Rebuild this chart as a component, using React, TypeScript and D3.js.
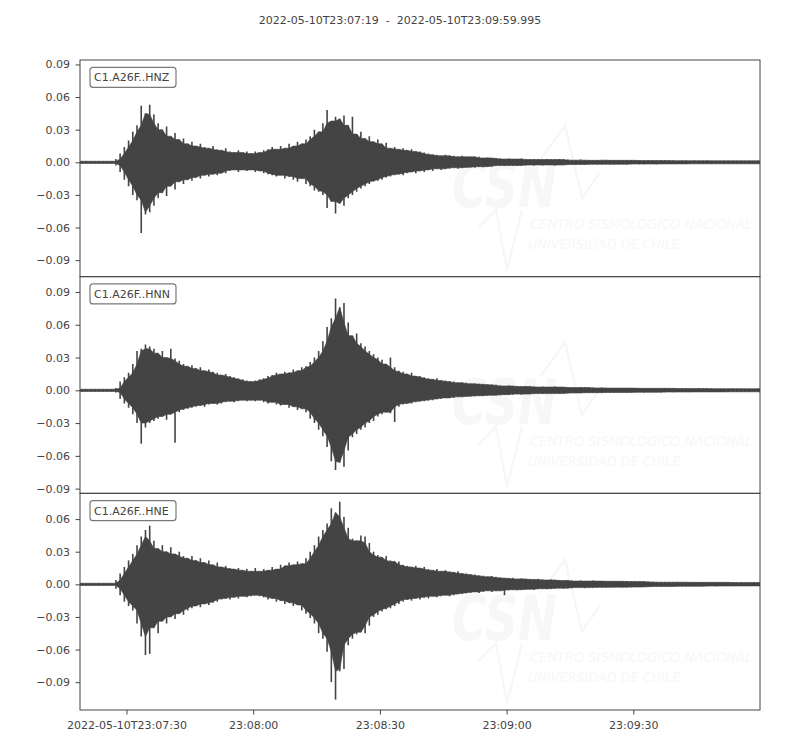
import { useEffect, useRef } from 'react'
import * as d3 from 'd3'

const START = '2022-05-10T23:07:19'
const END = '2022-05-10T23:09:59.995'
const CHANNELS = ['C1.A26F..HNZ', 'C1.A26F..HNN', 'C1.A26F..HNE']
const X_TICKS = ['2022-05-10T23:07:30', '2022-05-10T23:08:00', '2022-05-10T23:08:30', '2022-05-10T23:09:00', '2022-05-10T23:09:30']
const Y_TICKS = [-0.09, -0.06, -0.03, 0, 0.03, 0.06, 0.09]
// axis limits of each trace (equal scale, centred on the trace mean)
const Y_LIMITS = [[-0.1052, 0.0941], [-0.0943, 0.104], [-0.1156, 0.0837]]

// envelope of each trace, one max/min pair per second from 23:07:19, in units of 1e-3
const HNZ_MAX = [
  1, 1, 1, 1, 1, 1, 1, 1, 3, 8,
  14, 20, 28, 34, 52, 45, 53, 44, 36, 30,
  33, 24, 27, 21, 22, 17, 19, 15, 17, 14,
  13, 15, 12, 11, 13, 10, 9, 11, 9, 10,
  8, 10, 9, 11, 12, 14, 12, 15, 13, 17,
  15, 19, 17, 21, 24, 30, 28, 36, 48, 38,
  42, 40, 43, 34, 42, 26, 28, 22, 24, 19,
  21, 17, 18, 13, 14, 12, 13, 11, 12, 10,
  10, 9, 8, 7, 7, 6, 7, 6, 6, 5,
  6, 5, 5, 5, 5, 4, 4.5, 4, 4, 3.5,
  3, 3.5, 3, 3, 3.5, 3, 2.5, 3, 3, 2.5,
  3, 2.5, 2.5, 3, 2.5, 2.5, 2, 2, 2.5, 2,
  2, 1.8, 2, 2, 2.2, 2, 1.8, 2, 2, 1.8,
  2, 1.8, 2, 1.6, 1.8, 1.8, 1.6, 1.8, 1.6, 1.6,
  1.8, 1.5, 1.6, 1.6, 1.5, 1.6, 1.5, 1.5, 1.6, 1.5,
  1.4, 1.5, 1.5, 1.4, 1.5, 1.4, 1.5, 1.4, 1.4, 1.5,
  1.4,
]
const HNZ_MIN = [
  -1, -1, -1, -1, -1, -1, -1, -1, -3, -9,
  -16, -22, -30, -35, -65, -48, -46, -40, -33, -28,
  -31, -22, -25, -18, -20, -16, -17, -14, -15, -12,
  -13, -11, -12, -10, -10, -8, -7, -9, -7, -8,
  -7, -9, -8, -10, -11, -12, -13, -12, -15, -13,
  -16, -18, -15, -20, -22, -26, -27, -30, -42, -36,
  -47, -38, -40, -33, -30, -27, -24, -22, -20, -18,
  -17, -16, -14, -13, -12, -11, -12, -10, -9, -10,
  -8, -9, -7, -8, -6, -7, -6, -6, -5, -6,
  -5, -5, -4.5, -5, -4, -4.5, -4, -4, -3.5, -3,
  -3.5, -3, -3, -3.5, -3, -3, -2.5, -3, -2.5, -3,
  -2.5, -2.5, -3, -2.5, -2.5, -2.5, -2, -2, -2, -2.2,
  -2, -1.8, -2, -2, -1.8, -2, -2, -1.8, -1.8, -2,
  -1.8, -1.6, -1.8, -1.8, -1.6, -1.6, -1.8, -1.6, -1.5, -1.6,
  -1.6, -1.5, -1.5, -1.6, -1.5, -1.4, -1.5, -1.5, -1.4, -1.5,
  -1.4, -1.4, -1.5, -1.4, -1.4, -1.4, -1.5, -1.4, -1.4, -1.4,
  -1.4,
]
const HNN_MAX = [
  1, 1, 1, 1, 1, 1, 1, 1, 2, 8,
  12, 16, 24, 36, 38, 42, 40, 38, 34, 36,
  30, 38, 29, 27, 24, 22, 23, 20, 21, 18,
  19, 17, 16, 14, 15, 13, 12, 11, 10, 9,
  8, 9, 10, 11, 13, 14, 16, 15, 17, 16,
  19, 18, 21, 22, 26, 30, 36, 45, 58, 66,
  84, 76, 80, 62, 50, 52, 43, 40, 36, 33,
  30, 28, 24, 30, 21, 18, 17, 15, 16, 13,
  13, 12, 11, 10, 11, 9, 9, 8, 8, 7,
  7, 7, 6, 6, 6, 5.5, 5.5, 5, 5, 4.5,
  4, 4.5, 4, 4, 3.5, 4, 3.5, 3.5, 3, 3.5,
  3, 3, 3.5, 3, 3, 3, 2.5, 2.5, 3, 2.5,
  2.5, 2.5, 2.2, 2.5, 2.2, 2.2, 2, 2.2, 2, 2,
  2.2, 2, 2, 1.8, 2, 2, 1.8, 1.8, 2, 1.8,
  1.8, 1.8, 1.6, 1.8, 1.6, 1.6, 1.8, 1.6, 1.6, 1.6,
  1.5, 1.6, 1.5, 1.5, 1.6, 1.5, 1.5, 1.5, 1.5, 1.4,
  1.5,
]
const HNN_MIN = [
  -1, -1, -1, -1, -1, -1, -1, -1, -2, -8,
  -12, -16, -22, -30, -49, -34, -30, -28, -26, -24,
  -27, -22, -48, -20, -18, -17, -16, -15, -14, -15,
  -13, -12, -13, -12, -11, -10, -11, -10, -9, -10,
  -9, -10, -9, -11, -12, -11, -13, -14, -13, -16,
  -15, -18, -17, -20, -26, -30, -36, -42, -52, -65,
  -73, -66, -70, -55, -43, -40, -36, -34, -30, -28,
  -24, -22, -20, -21, -29, -15, -13, -12, -12, -11,
  -10, -10, -9, -9, -8, -8, -7, -7, -7, -6,
  -6, -6, -5.5, -5.5, -5, -5, -5, -4.5, -4.5, -4.5,
  -4, -4, -4, -3.5, -4, -3.5, -3.5, -3.5, -3, -3.5,
  -3, -3, -3, -3, -3, -3, -2.5, -2.5, -2.5, -2.5,
  -2.2, -2.5, -2.2, -2.2, -2.2, -2, -2.2, -2, -2, -2,
  -2, -2, -1.8, -2, -1.8, -1.8, -1.8, -1.8, -1.8, -1.6,
  -1.8, -1.6, -1.6, -1.6, -1.6, -1.6, -1.5, -1.6, -1.5, -1.5,
  -1.5, -1.5, -1.5, -1.5, -1.4, -1.5, -1.4, -1.4, -1.5, -1.4,
  -1.4,
]
const HNE_MAX = [
  1, 1, 1, 1, 1, 1, 1, 1, 4, 10,
  16, 22, 28, 36, 44, 50, 54, 40, 33, 36,
  30, 34, 28, 30, 26, 24, 26, 22, 24, 20,
  22, 18, 20, 16, 17, 15, 14, 15, 13, 14,
  12, 15, 12, 14, 13, 16, 14, 18, 17, 20,
  18, 21, 19, 24, 30, 36, 44, 50, 56, 70,
  66, 76, 62, 52, 42, 40, 45, 44, 38, 30,
  27, 25, 26, 22, 21, 21, 18, 17, 16, 17,
  15, 16, 14, 13, 14, 12, 13, 12, 11, 12,
  10, 10, 9, 9, 8, 8, 7, 7.5, 7, 6,
  6, 5.5, 6, 5, 5.5, 5, 5, 4.5, 5, 4.5,
  4, 4.5, 4, 4, 3.5, 4, 3.5, 3, 3.5, 3,
  3, 3.5, 3, 3, 3, 2.8, 3, 2.8, 2.8, 3,
  2.6, 2.8, 2.6, 2.5, 2.6, 2.2, 2.2, 2, 2.2, 2,
  2, 2.2, 2, 2, 2, 1.8, 2, 2, 1.8, 1.8,
  2, 1.8, 1.8, 1.8, 1.8, 1.6, 1.8, 1.8, 1.6, 1.8,
  1.6,
]
const HNE_MIN = [
  -1, -1, -1, -1, -1, -1, -1, -1, -4, -10,
  -16, -20, -24, -36, -48, -65, -64, -40, -45, -34,
  -36, -30, -32, -27, -28, -24, -22, -20, -21, -18,
  -19, -17, -16, -14, -13, -14, -12, -13, -11, -12,
  -11, -10, -11, -12, -14, -13, -16, -15, -18, -17,
  -20, -19, -24, -27, -31, -36, -45, -50, -62, -90,
  -106, -80, -78, -56, -50, -46, -44, -45, -38, -30,
  -28, -25, -23, -22, -20, -18, -16, -14, -15, -13,
  -14, -12, -13, -11, -12, -11, -10, -11, -10, -9,
  -9, -8, -8, -7, -8, -7, -6, -7, -6, -6,
  -10, -5.5, -5, -5.5, -5, -5, -4.5, -5, -4.5, -4,
  -4.5, -4, -4, -3.5, -4, -3.5, -3.5, -3, -3, -3.5,
  -3, -3, -3, -2.8, -3, -2.8, -2.8, -2.6, -2.8, -2.6,
  -2.6, -2.5, -2.6, -2.5, -2.4, -2.2, -2, -2.2, -2, -2,
  -2, -2, -1.8, -2, -1.8, -1.8, -1.8, -1.8, -1.8, -1.6,
  -1.8, -1.6, -1.6, -1.6, -1.6, -1.6, -1.5, -1.6, -1.5, -1.5,
  -1.5,
]
const TRACES = [
  { max: HNZ_MAX, min: HNZ_MIN },
  { max: HNN_MAX, min: HNN_MIN },
  { max: HNE_MAX, min: HNE_MIN },
]
const UNIT = 1e-3

const W = 800
const H = 750
const LEFT = 80
const RIGHT = 760
const TOP = 60
const BOTTOM = 710
const INK = '#444444'
const FONT = 'DejaVu Sans, sans-serif'
const LOGO = '#f7f7f7'

type Pt = { t: number; hi: number; lo: number }

export default function App() {
  const svgRef = useRef<SVGSVGElement>(null)

  useEffect(() => {
    if (!svgRef.current) return
    const svg = d3.select(svgRef.current)
    svg.selectAll('*').remove()

    const t0 = new Date(START + 'Z')
    const t1 = new Date(END + 'Z')
    const dur = (t1.getTime() - t0.getTime()) / 1000
    const at = (s: number) => new Date(t0.getTime() + s * 1000)

    const x = d3.scaleUtc().domain([t0, t1]).range([LEFT, RIGHT])
    const panelH = (BOTTOM - TOP) / CHANNELS.length

    svg.append('text')
      .attr('x', W / 2).attr('y', 24)
      .attr('text-anchor', 'middle')
      .attr('font-family', FONT).attr('font-size', 11).attr('fill', INK)
      .style('white-space', 'pre')
      .text(`${START}  -  ${END}`)

    CHANNELS.forEach((ch, k) => {
      const top = TOP + k * panelH
      const y = d3.scaleLinear().domain(Y_LIMITS[k]).range([top + panelH, top])
      const g = svg.append('g')

      const clipId = `clip-${k}`
      svg.append('clipPath').attr('id', clipId)
        .append('rect').attr('x', LEFT).attr('y', top).attr('width', RIGHT - LEFT).attr('height', panelH)

      // faint CSN watermark
      const wm = g.append('g').attr('clip-path', `url(#${clipId})`)
        .append('g').attr('transform', `translate(0,${top})`)
      wm.append('path')
        .attr('d', 'M540,100 L565,66 L582,138 L600,112 M478,168 L496,150 L507,210 L522,150')
        .attr('fill', 'none').attr('stroke', LOGO).attr('stroke-width', 2.5)
      wm.append('g').attr('transform', 'translate(452,147) scale(1,1.3)')
        .append('text')
        .attr('font-family', FONT).attr('font-size', 48).attr('font-weight', 'bold').attr('font-style', 'italic')
        .attr('textLength', 105).attr('lengthAdjust', 'spacingAndGlyphs')
        .attr('fill', LOGO).text('CSN')
      wm.append('g').attr('transform', 'translate(530,169) scale(1,1.15)')
        .append('text')
        .attr('font-family', FONT).attr('font-size', 13).attr('font-style', 'italic')
        .attr('textLength', 222).attr('lengthAdjust', 'spacingAndGlyphs')
        .attr('fill', LOGO).text('CENTRO SISMOLÓGICO NACIONAL')
      wm.append('g').attr('transform', 'translate(528,189) scale(1,1.15)')
        .append('text')
        .attr('font-family', FONT).attr('font-size', 13).attr('font-style', 'italic')
        .attr('textLength', 152).attr('lengthAdjust', 'spacingAndGlyphs')
        .attr('fill', LOGO).text('UNIVERSIDAD DE CHILE')

      // trace: solid body from the neighbouring peaks, spikes for each second's extremes
      const tr = TRACES[k]
      const n = tr.max.length
      const core: Pt[] = tr.max.map((_, i) => {
        const a = Math.max(0, i - 1)
        const b = Math.min(n, i + 2)
        return {
          t: i + 0.5,
          hi: d3.min(tr.max.slice(a, b))!,
          lo: d3.max(tr.min.slice(a, b))!,
        }
      })
      core.unshift({ t: 0, hi: tr.max[0], lo: tr.min[0] })
      core.push({ t: dur, hi: tr.max[n - 1], lo: tr.min[n - 1] })

      const area = d3.area<Pt>()
        .x(d => x(at(d.t)))
        .y0(d => y(d.lo * UNIT))
        .y1(d => y(d.hi * UNIT))
      const trace = g.append('g').attr('clip-path', `url(#${clipId})`)
      trace.append('path')
        .attr('d', area(core)!)
        .attr('fill', INK).attr('stroke', INK).attr('stroke-width', 0.6)

      const spikes: Pt[] = tr.max.map((hi, i) => ({ t: i + 0.5, hi, lo: tr.min[i] }))
      trace.selectAll('line.spike')
        .data(spikes)
        .join('line')
        .attr('class', 'spike')
        .attr('x1', d => x(at(d.t))).attr('x2', d => x(at(d.t)))
        .attr('y1', d => y(d.hi * UNIT)).attr('y2', d => y(d.lo * UNIT))
        .attr('stroke', INK).attr('stroke-width', 1.6)

      // frame
      g.append('rect')
        .attr('x', LEFT).attr('y', top).attr('width', RIGHT - LEFT).attr('height', panelH)
        .attr('fill', 'none').attr('stroke', INK).attr('stroke-width', 1)

      // y axis
      const ya = g.append('g').attr('transform', `translate(${LEFT},0)`)
        .call(d3.axisLeft(y)
          .tickValues(Y_TICKS.filter(v => v >= Y_LIMITS[k][0] && v <= Y_LIMITS[k][1]))
          .tickFormat(d3.format('.2f'))
          .tickSize(4.5).tickPadding(5.5))
      ya.select('.domain').remove()
      ya.selectAll('line').attr('stroke', INK)
      ya.selectAll('text').attr('fill', INK).attr('font-family', FONT).attr('font-size', 11)

      // channel label
      g.append('rect')
        .attr('x', 90).attr('y', top + 7.3).attr('width', 86).attr('height', 20).attr('rx', 3)
        .attr('fill', '#fff').attr('stroke', '#7a7a7a').attr('stroke-width', 1.2)
      g.append('text')
        .attr('x', 94).attr('y', top + 21.4)
        .attr('font-family', FONT).attr('font-size', 11).attr('fill', INK)
        .text(ch)
    })

    const ticks = X_TICKS.map(s => new Date(s + 'Z'))
    const fmtTime = d3.utcFormat('%H:%M:%S')
    const xa = svg.append('g').attr('transform', `translate(0,${BOTTOM})`)
      .call(d3.axisBottom(x)
        .tickValues(ticks)
        .tickFormat((d, i) => (i === 0 ? X_TICKS[0] : fmtTime(d as Date)))
        .tickSize(4.5).tickPadding(6.5))
    xa.select('.domain').remove()
    xa.selectAll('line').attr('stroke', INK)
    xa.selectAll('text').attr('fill', INK).attr('font-family', FONT).attr('font-size', 11)
  }, [])

  return <svg ref={svgRef} width={W} height={H} style={{ position: 'absolute', left: 0, top: 0, background: '#fff' }} />
}
